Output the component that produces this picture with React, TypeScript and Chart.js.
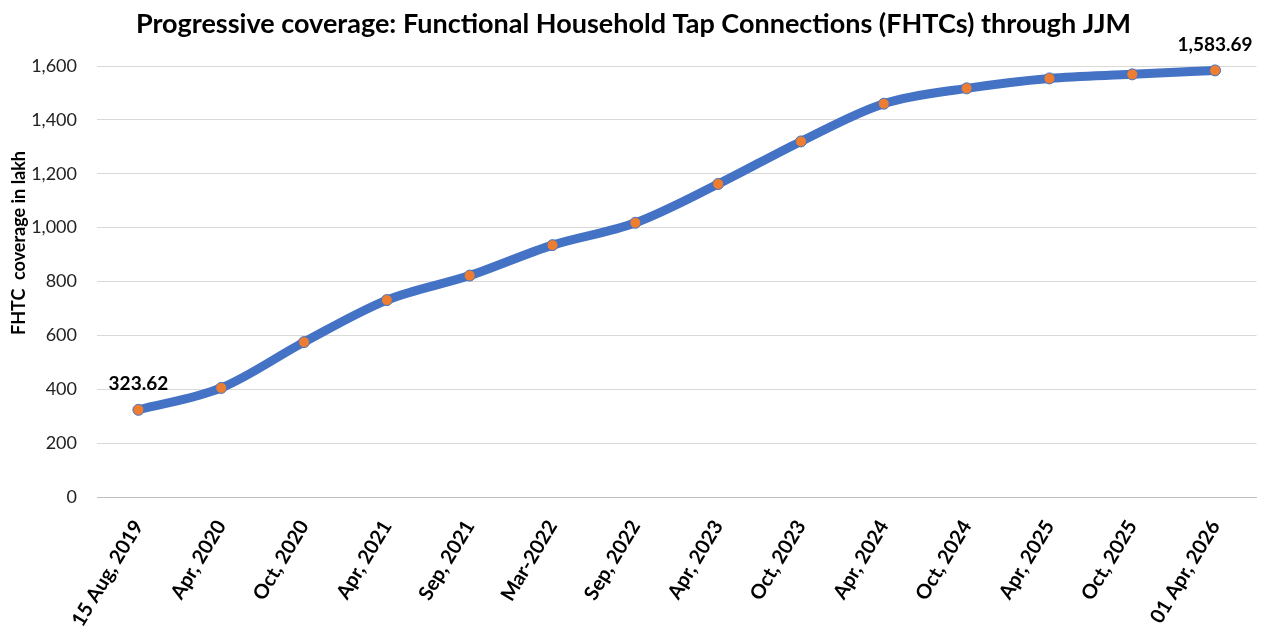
import React, { useEffect, useRef } from "react";
import { Chart, registerables } from "chart.js";

Chart.register(...registerables);

const categories: string[] = [
  "15 Aug, 2019",
  "Apr, 2020",
  "Oct, 2020",
  "Apr, 2021",
  "Sep, 2021",
  "Mar-2022",
  "Sep, 2022",
  "Apr, 2023",
  "Oct, 2023",
  "Apr, 2024",
  "Oct, 2024",
  "Apr, 2025",
  "Oct, 2025",
  "01 Apr, 2026",
];

const fhtcLakh: number[] = [
  323.62, 405, 575, 731, 822, 935, 1018, 1162, 1320, 1460, 1517, 1554, 1569, 1583.69,
];

const labelledIndices: number[] = [0, 13];

const chartTitle =
  "Progressive coverage: Functional Household Tap Connections (FHTCs) through JJM";
const yAxisTitle = "FHTC  coverage in lakh";

const FONT = "Lato, 'Open Sans', sans-serif";

const fmt = (v: number) =>
  v.toLocaleString("en-US", { minimumFractionDigits: 2, maximumFractionDigits: 2 });

const dataLabelPlugin = {
  id: "endLabels",
  afterDatasetsDraw(chart: any) {
    const meta = chart.getDatasetMeta(0);
    const ctx = chart.ctx;
    ctx.save();
    ctx.font = `bold 19px ${FONT}`;
    ctx.fillStyle = "#000";
    ctx.textAlign = "center";
    ctx.textBaseline = "bottom";
    labelledIndices.forEach((i) => {
      const pt = meta.data[i];
      if (!pt) return;
      ctx.fillText(fmt(fhtcLakh[i]), pt.x, pt.y - 16);
    });
    ctx.restore();
  },
};

const yTitlePlugin = {
  id: "yTitle",
  afterDraw(chart: any) {
    const ctx = chart.ctx;
    ctx.save();
    ctx.translate(11, 235);
    ctx.rotate(-Math.PI / 2);
    ctx.font = `bold 18px ${FONT}`;
    ctx.fillStyle = "#000";
    ctx.textAlign = "center";
    ctx.textBaseline = "middle";
    ctx.fillText(yAxisTitle, 0, 0);
    ctx.restore();
  },
};

export default function App() {
  const ref = useRef<HTMLCanvasElement | null>(null);

  useEffect(() => {
    if (!ref.current) return;
    const chart = new Chart(ref.current, {
      type: "line",
      data: {
        labels: categories,
        datasets: [
          {
            data: fhtcLakh,
            borderColor: "#4472C4",
            borderWidth: 9,
            cubicInterpolationMode: "monotone",
            pointRadius: 5.5,
            pointBackgroundColor: "#ED7D31",
            pointBorderColor: "#4472C4",
            pointBorderWidth: 1,
            fill: false,
            clip: false as any,
          },
        ],
      },
      options: {
        animation: false,
        responsive: false,
        maintainAspectRatio: false,
        layout: { padding: { left: 0, right: 4, top: 0, bottom: 0 } },
        plugins: {
          legend: { display: false },
          tooltip: { enabled: false },
          title: {
            display: true,
            text: chartTitle,
            color: "#000",
            font: { family: FONT, size: 27, weight: "bold" },
            padding: { top: 0, bottom: 25.6 },
          },
        },
        scales: {
          x: {
            offset: true,
            grid: { display: false, drawTicks: false },
            border: { display: true, color: "#BFBFBF", width: 1 },
            ticks: {
              autoSkip: false,
              minRotation: 59,
              maxRotation: 59,
              padding: 19,
              labelOffset: 0,
              color: "#000",
              font: { family: FONT, size: 20, weight: "bold" },
            },
            afterFit: (scale: any) => {
              scale.height = 131;
            },
          },
          y: {
            min: 0,
            max: 1600,
            ticks: {
              stepSize: 200,
              padding: 20,
              color: "#222",
              font: { family: FONT, size: 18 },
              callback: (v: any) => Number(v).toLocaleString("en-US"),
            },
            grid: { color: "#D9D9D9", lineWidth: 1, drawTicks: false },
            border: { display: false },
            title: { display: false },
            afterFit: (scale: any) => {
              scale.width = 89;
            },
          },
        },
      },
      plugins: [dataLabelPlugin, yTitlePlugin],
    });
    return () => chart.destroy();
  }, []);

  return (
    <div style={{ width: 1255, height: 620 }}>
      <canvas ref={ref} width={1255} height={620} style={{ display: "block" }} />
    </div>
  );
}
